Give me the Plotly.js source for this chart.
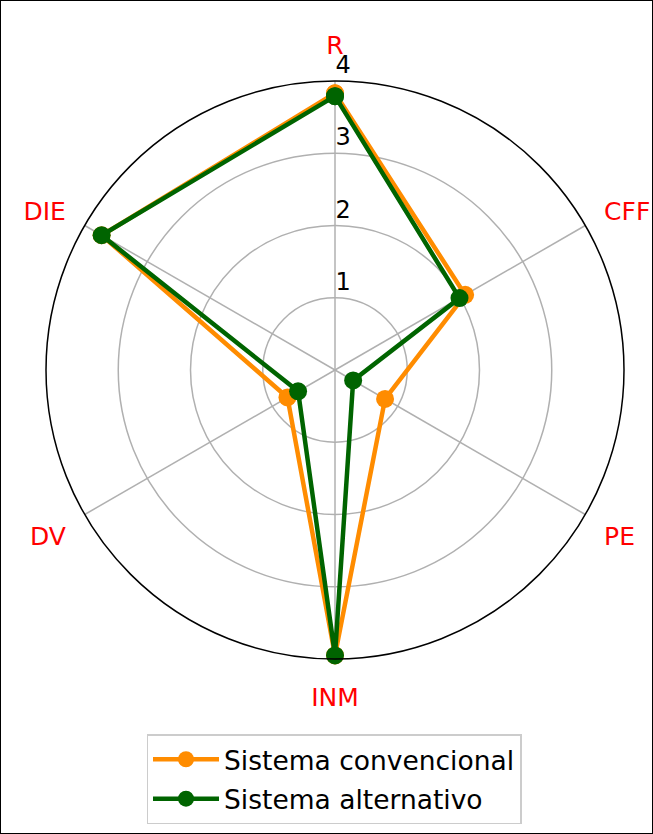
<!DOCTYPE html>
<html>
<head>
<meta charset="utf-8">
<script src="https://cdn.plot.ly/plotly-3.0.1.min.js"></script>
<style>
  html, body { margin: 0; padding: 0; background: #fff; }
  #wrap { position: relative; width: 653px; height: 834px; }
  #plot { width: 653px; height: 834px; }
  #frame { position: absolute; left: 0; top: 0; width: 653px; height: 834px; box-sizing: border-box; border: 1px solid #000; pointer-events: none; }
</style>
</head>
<body>
<div id="wrap"><div id="plot"></div><div id="frame"></div></div>
<script>
const categories = ["R", "CFF", "PE", "INM", "DV", "DIE"];
const convencional = [3.83, 2.08, 0.80, 3.95, 0.76, 3.73];
const alternativo = [3.79, 1.99, 0.29, 3.95, 0.59, 3.73];
const radialTicks = [1, 2, 3, 4];
const seriesNames = ["Sistema convencional", "Sistema alternativo"];

function closeLoop(a) { return a.concat([a[0]]); }

const font = "DejaVu Sans, Liberation Sans, sans-serif";

const traces = [
  {
    type: "scatterpolar", mode: "lines+markers",
    r: closeLoop(convencional), theta: closeLoop(categories),
    name: seriesNames[0], legendgroup: "a",
    line: { color: "#ff8c00", width: 4.5 },
    marker: { color: "#ff8c00", size: 18 }
  },
  {
    type: "scatterpolar", mode: "lines+markers",
    r: closeLoop(alternativo), theta: closeLoop(categories),
    name: seriesNames[1], legendgroup: "b",
    line: { color: "#006400", width: 4.5 },
    marker: { color: "#006400", size: 18 }
  }
];

const layout = {
  width: 653, height: 834,
  margin: { l: 0, r: 0, t: 0, b: 0 },
  paper_bgcolor: "#fff",
  font: { family: font, color: "#000" },
  showlegend: true,
  polar: {
    domain: { x: [46/653, 624/653], y: [1 - 659/834, 1 - 81/834] },
    bgcolor: "#fff",
    angularaxis: {
      rotation: 90, direction: "clockwise",
      showline: true, linecolor: "#000", linewidth: 1.5,
      gridcolor: "#b0b0b0", gridwidth: 1.5,
      ticks: "outside", ticklen: 16, tickcolor: "rgba(0,0,0,0)",
      tickfont: { family: font, size: 25, color: "#ff0000" }
    },
    radialaxis: {
      range: [0, 4], tickvals: radialTicks,
      ticktext: radialTicks.map(v => v + "<br> "),
      angle: 90, side: "clockwise", tickangle: 90,
      showline: false, ticks: "",
      gridcolor: "#b0b0b0", gridwidth: 1.5,
      tickfont: { family: font, size: 24, color: "#000" }
    }
  },
  legend: {
    x: 334/653, xanchor: "center", y: 1 - 734/834, yanchor: "top",
    orientation: "v", traceorder: "grouped", tracegroupgap: 2,
    itemwidth: 66,
    bordercolor: "#cccccc", borderwidth: 1.5, bgcolor: "#fff",
    font: { family: font, size: 26.5, color: "#000" }
  }
};

Plotly.newPlot("plot", traces, layout, { displayModeBar: false, staticPlot: true });
</script>
</body>
</html>
